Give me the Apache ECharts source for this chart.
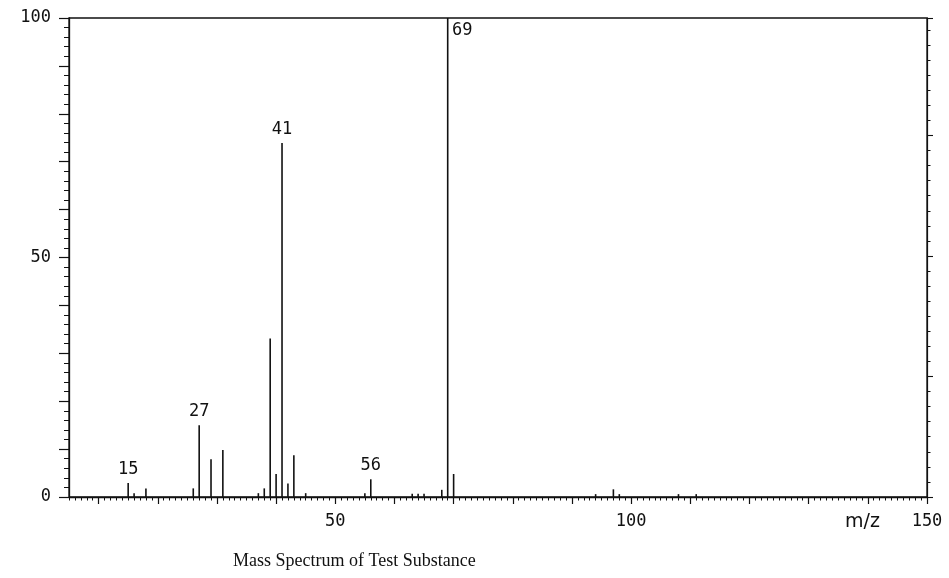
<!DOCTYPE html>
<html>
<head>
<meta charset="utf-8">
<script src="https://cdn.jsdelivr.net/npm/echarts@6/dist/echarts.min.js"></script>
<style>
html,body{margin:0;padding:0;background:#fff;}
#chart{width:949px;height:578px;}
</style>
</head>
<body>
<div id="chart"></div>
<script>
// m/z values of the peaks
const mz = [15, 16, 18, 26, 27, 29, 31, 37, 38, 39, 40, 41, 42, 43, 45, 55, 56, 63, 64, 65, 68, 69, 70, 94, 97, 98, 108, 111];
// relative intensities (%)
const intensity = [2.9, 0.8, 1.8, 1.8, 15, 7.9, 9.8, 0.8, 1.8, 33.1, 4.8, 73.9, 2.8, 8.7, 0.8, 0.8, 3.7, 0.7, 0.7, 0.7, 1.5, 100, 4.8, 0.6, 1.6, 0.6, 0.6, 0.6];
// peaks that carry a label
const labeledPeaks = [15, 27, 41, 56, 69];
const sideLabelPeaks = [69];
// axis tick labels
const xTickLabels = [50, 100, 150];
const yTickLabels = [0, 50, 100];
const xMajorTicks = [10, 20, 30, 40, 50, 60, 70, 80, 90, 100, 110, 120, 130, 140, 150];
const xRange = [5, 150];
const xMinorTicks = [];
for (let v = xRange[0]; v <= xRange[1]; v++) xMinorTicks.push(v);

const titleText = 'Mass Spectrum of Test Substance';
const xName = 'm/z';

const ink = '#111';
const monoFont = 'DejaVu Sans Mono';

const seriesData = mz.map((m, i) => {
  const item = { value: [m, intensity[i]] };
  if (sideLabelPeaks.includes(m)) {
    item.label = { show: true, position: [5, 4], align: 'left', verticalAlign: 'top' };
  } else if (labeledPeaks.includes(m)) {
    item.label = { show: true, position: 'top', distance: 5 };
  }
  return item;
});

const chart = echarts.init(document.getElementById('chart'), null, { renderer: 'canvas' });
chart.setOption({
  animation: false,
  backgroundColor: '#fff',
  title: [
    { text: titleText, left: 228, top: 547,
      textStyle: { fontFamily: 'Liberation Serif', fontSize: 18, fontWeight: 'normal', color: ink } },
    { text: xName, left: 840, top: 508,
      textStyle: { fontFamily: 'DejaVu Sans', fontSize: 19, fontWeight: 'normal', color: ink } }
  ],
  grid: { left: 69, right: 22, top: 18, bottom: 81, show: true, borderColor: ink, borderWidth: 1.3, backgroundColor: 'transparent' },
  xAxis: [
    {
      type: 'value', min: xRange[0], max: xRange[1],
      axisLine: { show: true, lineStyle: { color: ink, width: 1.3 } },
      axisTick: { show: true, length: 7, customValues: xMajorTicks, lineStyle: { color: ink, width: 1.2 } },
      axisLabel: { show: true, customValues: xTickLabels, margin: 16,
        fontFamily: monoFont, fontSize: 17, color: ink },
      splitLine: { show: false }
    },
    {
      type: 'value', min: xRange[0], max: xRange[1], position: 'bottom', offset: 0,
      axisLine: { show: false },
      axisTick: { show: true, length: 3.5, customValues: xMinorTicks, lineStyle: { color: ink, width: 1 } },
      axisLabel: { show: false },
      splitLine: { show: false }
    }
  ],
  yAxis: [
    {
      type: 'value', min: 0, max: 100, interval: 10,
      axisLine: { show: true, lineStyle: { color: ink, width: 1.3 } },
      axisTick: { show: true, length: 10, lineStyle: { color: ink, width: 1.2 } },
      minorTick: { show: true, splitNumber: 5, length: 5, lineStyle: { color: ink, width: 1 } },
      axisLabel: { margin: 18, fontFamily: monoFont, fontSize: 17, color: ink,
        formatter: v => (yTickLabels.includes(v) ? String(v) : '') },
      splitLine: { show: false }
    },
    {
      type: 'value', min: 0, max: 31.8, interval: 8, position: 'right',
      axisLine: { show: true, lineStyle: { color: ink, width: 1.2 } },
      axisTick: { show: true, length: 6, lineStyle: { color: ink, width: 1.1 } },
      minorTick: { show: true, splitNumber: 8, length: 3.5, lineStyle: { color: ink, width: 1 } },
      axisLabel: { show: false },
      splitLine: { show: false }
    }
  ],
  series: [
    {
      type: 'bar', xAxisIndex: 0, yAxisIndex: 0,
      barWidth: 1.6,
      itemStyle: { color: ink },
      label: { show: false, fontFamily: monoFont, fontSize: 17, color: ink,
        formatter: p => String(p.value[0]) },
      data: seriesData
    }
  ]
});
</script>
</body>
</html>
